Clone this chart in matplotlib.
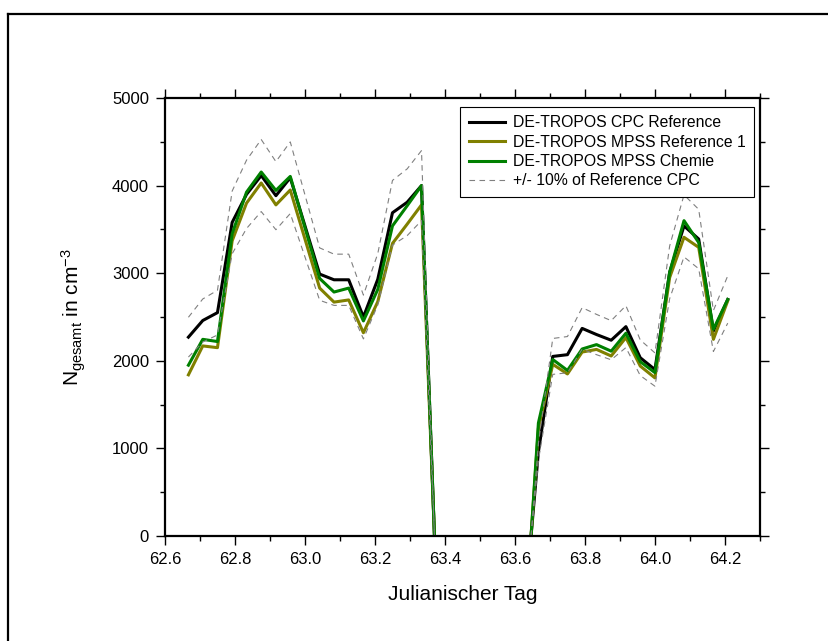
import numpy as np
import matplotlib
matplotlib.use("Agg")
import matplotlib.pyplot as plt
import matplotlib.ticker as mticker
from matplotlib.lines import Line2D

plt.rcParams.update({
    "font.family": ["Liberation Sans", "DejaVu Sans"],
    "mathtext.fontset": "custom",
    "mathtext.rm": "Liberation Sans",
    "mathtext.it": "Liberation Sans:italic",
    "mathtext.bf": "Liberation Sans:bold",
})

# Julianischer Tag (NaN = Messluecke)
tag = [62.667, 62.708, 62.750, 62.792, 62.833, 62.875, 62.917, 62.958, 63.000,
       63.042, 63.083, 63.125, 63.167, 63.208, 63.250, 63.292, 63.333, 63.370,
       63.500,
       63.646, 63.667, 63.708, 63.750, 63.792, 63.833, 63.875, 63.917, 63.958,
       64.000, 64.042, 64.083, 64.125, 64.167, 64.208]

cpc_ref = [2270, 2460, 2550, 3580, 3900, 4115, 3885, 4090, 3540,
           2990, 2925, 2925, 2500, 2930, 3690, 3810, 4000, 0,
           np.nan,
           0, 960, 2050, 2070, 2370, 2300, 2235, 2390, 2035,
           1900, 3010, 3540, 3390, 2340, 2700]

mpss_ref1 = [1840, 2170, 2150, 3370, 3800, 4030, 3780, 3950, 3390,
             2830, 2670, 2695, 2320, 2675, 3340, 3560, 3780, 0,
             np.nan,
             0, 1230, 1960, 1850, 2100, 2130, 2055, 2265, 1940,
             1805, 2950, 3410, 3295, 2245, 2685]

mpss_chemie = [1950, 2245, 2220, 3450, 3925, 4155, 3945, 4105, 3520,
               2940, 2785, 2830, 2455, 2815, 3540, 3770, 4000, 0,
               np.nan,
               0, 1290, 2015, 1890, 2135, 2185, 2110, 2315, 1990,
               1865, 3010, 3600, 3350, 2360, 2700]

labels = ["DE-TROPOS CPC Reference", "DE-TROPOS MPSS Reference 1",
          "DE-TROPOS MPSS Chemie", "+/- 10% of Reference CPC"]
BAND = 0.10

x = np.array(tag)
cpc = np.array(cpc_ref, dtype=float)

fig = plt.figure(figsize=(8.29, 6.41), dpi=100)
ax = fig.add_axes([0.199, 0.1638, 0.7177, 0.6833])

ax.plot(x, cpc, color="black", lw=2.2, label=labels[0])
ax.plot(x, mpss_ref1, color="#808000", lw=2.2, label=labels[1])
ax.plot(x, mpss_chemie, color="#008000", lw=2.2, label=labels[2])
ax.plot(x, cpc * (1 + BAND), color="#808080", lw=0.8, dashes=(5, 4), label=labels[3])
ax.plot(x, cpc * (1 - BAND), color="#808080", lw=0.8, dashes=(5, 4))

ax.set_xlim(62.6, 64.3)
ax.set_ylim(0, 5000)
ax.xaxis.set_major_locator(mticker.MultipleLocator(0.2))
ax.xaxis.set_minor_locator(mticker.MultipleLocator(0.1))
ax.yaxis.set_major_locator(mticker.MultipleLocator(1000))
ax.yaxis.set_minor_locator(mticker.MultipleLocator(500))
ax.xaxis.set_major_formatter(mticker.FormatStrFormatter("%.1f"))

for s in ax.spines.values():
    s.set_linewidth(1.6)
ax.tick_params(which="both", direction="out", top=True, right=True,
               labelsize=12, width=1.0, pad=5)
ax.tick_params(which="major", length=6.5)
ax.tick_params(which="minor", length=3.5)

ax.set_xlabel("Julianischer Tag", fontsize=15, labelpad=13)
ax.set_ylabel(r"N$_{\mathrm{gesamt}}$ in cm$^{-3}$", fontsize=15, labelpad=17)

leg = ax.legend(loc="upper right", bbox_to_anchor=(0.99, 0.98), borderaxespad=0,
                fontsize=11.3, frameon=True, fancybox=False, framealpha=1,
                edgecolor="black", handlelength=2.3, handletextpad=0.5,
                labelspacing=0.28, borderpad=0.54)
leg.get_frame().set_linewidth(0.8)

# Rahmen um die Grafik
fx = 8 / 829
fy = 1 - 14 / 641
fig.add_artist(Line2D([fx, fx], [0, fy], color="black", lw=1.6, transform=fig.transFigure))
fig.add_artist(Line2D([fx, 1], [fy, fy], color="black", lw=1.6, transform=fig.transFigure))

fig.savefig("out.png", dpi=100)
